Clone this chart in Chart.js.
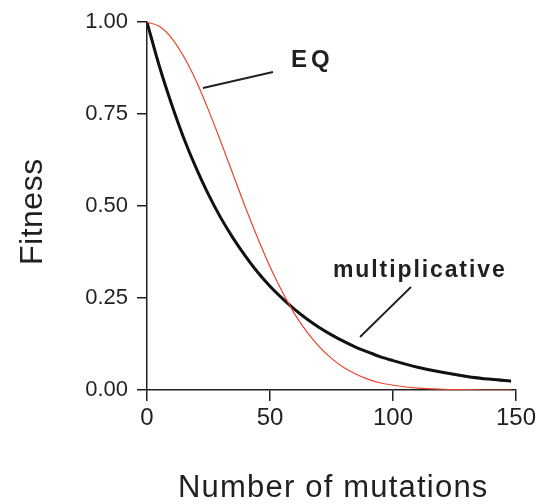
<!DOCTYPE html>
<html>
<head>
<meta charset="utf-8">
<script src="https://cdn.jsdelivr.net/npm/chart.js@4"></script>
<style>
  html, body { margin: 0; padding: 0; background: #fff; }
  canvas { display: block; }
</style>
</head>
<body>
<canvas id="fitnessChart" width="546" height="504"></canvas>
<script>
// values
var mutations = [0, 5, 10, 15, 20, 25, 30, 35, 40, 45, 50, 55, 60, 65, 70, 75, 80, 85, 90, 95, 100, 110, 120, 130, 140, 148];
var multiplicative = [1.000, 0.881, 0.777, 0.684, 0.603, 0.531, 0.468, 0.413, 0.364, 0.320, 0.282, 0.249, 0.219, 0.193, 0.170, 0.150, 0.132, 0.116, 0.103, 0.090, 0.080, 0.062, 0.048, 0.037, 0.029, 0.024];
var eq = [1.000, 0.989, 0.957, 0.906, 0.840, 0.761, 0.675, 0.586, 0.497, 0.413, 0.335, 0.267, 0.207, 0.158, 0.118, 0.086, 0.061, 0.043, 0.029, 0.019, 0.013, 0.005, 0.002, 0.001, 0.000, 0.000];
var xTicks = [0, 50, 100, 150];
var yTicks = [0, 0.25, 0.5, 0.75, 1];

var ink = '#231f20';

function points(ys) {
  return mutations.map(function (x, i) { return { x: x, y: ys[i] }; });
}

// axis titles and the two labels with their pointer lines
var labelsPlugin = {
  id: 'labels',
  afterDraw: function (chart) {
    var ctx = chart.ctx;
    ctx.save();
    ctx.fillStyle = ink;
    ctx.strokeStyle = ink;
    ctx.textAlign = 'left';
    ctx.textBaseline = 'alphabetic';

    // pointer lines
    ctx.lineWidth = 1.8;
    ctx.beginPath();
    ctx.moveTo(203, 88);
    ctx.lineTo(273, 72);
    ctx.moveTo(411, 287);
    ctx.lineTo(360, 337);
    ctx.stroke();

    ctx.font = 'bold 24px "Liberation Sans", Arial, sans-serif';
    ctx.letterSpacing = '4px';
    ctx.fillText('EQ', 291, 67);

    ctx.font = 'bold 23px "Liberation Sans", Arial, sans-serif';
    ctx.letterSpacing = '1.9px';
    ctx.fillText('multiplicative', 333, 277);

    ctx.font = '31px "Liberation Sans", Arial, sans-serif';
    ctx.letterSpacing = '1.2px';
    ctx.fillText('Number of mutations', 178, 497);

    ctx.font = '32px "Liberation Sans", Arial, sans-serif';
    ctx.letterSpacing = '0.5px';
    ctx.translate(42, 265);
    ctx.rotate(-Math.PI / 2);
    ctx.fillText('Fitness', 0, 0);
    ctx.restore();
  }
};

var chart = new Chart(document.getElementById('fitnessChart'), {
  type: 'line',
  data: {
    datasets: [{
      label: 'EQ',
      data: points(eq),
      borderColor: '#e8452c',
      borderWidth: 1.2,
      pointRadius: 0,
      fill: false,
      cubicInterpolationMode: 'monotone',
      order: 0
    }, {
      label: 'multiplicative',
      data: points(multiplicative),
      borderColor: '#111',
      borderWidth: 3,
      pointRadius: 0,
      fill: false,
      cubicInterpolationMode: 'monotone',
      order: 1
    }]
  },
  options: {
    responsive: false,
    animation: false,
    devicePixelRatio: 1,
    layout: { padding: { top: 21, right: 30, left: 0, bottom: 0 } },
    plugins: {
      legend: { display: false },
      tooltip: { enabled: false }
    },
    scales: {
      x: {
        type: 'linear',
        min: 0,
        max: 150,
        afterFit: function (scale) { scale.height = 114; },
        afterBuildTicks: function (scale) {
          scale.ticks = xTicks.map(function (v) { return { value: v }; });
        },
        ticks: {
          color: ink,
          font: { family: '"Liberation Sans", Arial, sans-serif', size: 24 },
          padding: 3,
          maxRotation: 0
        },
        grid: { drawOnChartArea: false, color: ink, lineWidth: 1.5, tickLength: 11 },
        border: { color: ink, width: 1.5 }
      },
      y: {
        min: 0,
        max: 1,
        afterFit: function (scale) { scale.width = 147; },
        afterBuildTicks: function (scale) {
          scale.ticks = yTicks.map(function (v) { return { value: v }; });
        },
        ticks: {
          color: ink,
          font: { family: '"Liberation Sans", Arial, sans-serif', size: 22 },
          padding: 9,
          callback: function (v) { return v.toFixed(2); }
        },
        grid: { drawOnChartArea: false, color: ink, lineWidth: 1.5, tickLength: 10 },
        border: { color: ink, width: 1.5 }
      }
    }
  },
  plugins: [labelsPlugin]
});
</script>
</body>
</html>
